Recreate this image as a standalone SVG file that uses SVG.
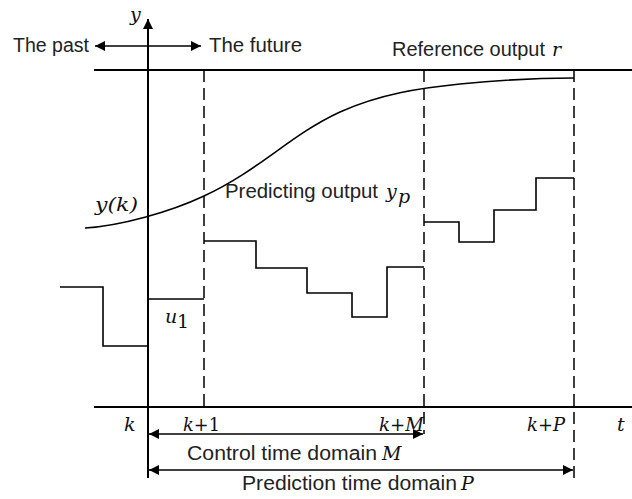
<svg xmlns="http://www.w3.org/2000/svg" width="632" height="499" viewBox="0 0 632 499">
<defs>
<marker id="ah" viewBox="0 0 10 10" refX="10" refY="5" markerWidth="11" markerHeight="10" markerUnits="userSpaceOnUse" orient="auto-start-reverse">
<path d="M0,0 L10,5 L0,10 Z" fill="#000"/>
</marker>
<style>
.ln{fill:none;stroke:#000;stroke-width:1.6}
.ax{fill:none;stroke:#000;stroke-width:2}
.dash{fill:none;stroke:#000;stroke-width:1.5;stroke-dasharray:12 6}
.sans{font-family:"Liberation Sans","Noto Sans",Arial,sans-serif;font-size:20px;fill:#222}
.math{font-family:"DejaVu Serif","Liberation Serif",serif;font-style:italic;font-size:19px;fill:#111}
.up{font-style:normal}
</style>
</defs>
<rect width="632" height="499" fill="#fff"/>
<g id="connectors">
<line class="ax" x1="148" y1="478" x2="148" y2="19" marker-end="url(#ah)" stroke-width="2.4"/>
<line class="ax" x1="94" y1="407" x2="632" y2="407"/>
<line class="ax" x1="94" y1="70" x2="632" y2="70"/>
<line class="ln" x1="95" y1="46" x2="201" y2="46" marker-start="url(#ah)" marker-end="url(#ah)"/>
<line class="dash" x1="204" y1="70" x2="204" y2="407"/>
<line class="dash" x1="424" y1="70" x2="424" y2="434"/>
<line class="dash" x1="574" y1="70" x2="574" y2="478"/>
<path class="ln" d="M85,228 C120,226 170,212 204,196 C260,170 290,135 340,112 C380,94 420,88 460,84 C500,80 540,78 574,78"/>
<path class="ln" d="M60,287 H103 V346 H148"/>
<path class="ln" d="M148,299 H204"/>
<path class="ln" d="M204,241 H256 V268 H307 V293 H352 V317 H387 V267 H424"/>
<path class="ln" d="M424,222 H459 V242 H494 V210 H536 V178 H574"/>
<line class="ln" x1="149" y1="434" x2="423" y2="434" marker-start="url(#ah)" marker-end="url(#ah)"/>
<line class="ln" x1="149" y1="470" x2="573" y2="470" marker-start="url(#ah)" marker-end="url(#ah)"/>
</g>
<g id="labels">
<text class="math" x="130" y="21">y</text>
<text class="sans" x="13" y="52" textLength="76" lengthAdjust="spacingAndGlyphs">The past</text>
<text class="sans" x="209" y="52" textLength="93" lengthAdjust="spacingAndGlyphs">The future</text>
<text class="sans" x="392" y="56" textLength="153" lengthAdjust="spacingAndGlyphs">Reference output</text>
<text class="math" x="552" y="56">r</text>
<text class="math" x="95" y="211" textLength="43" lengthAdjust="spacingAndGlyphs">y(k)</text>
<text class="sans" x="225" y="198" textLength="153" lengthAdjust="spacingAndGlyphs">Predicting output</text>
<text class="math" x="386" y="198">y</text>
<text class="math" x="398" y="203" font-size="13">p</text>
<text class="math" x="165" y="323">u</text>
<text class="math up" x="177" y="328" font-size="13">1</text>
<text class="math" x="124" y="431">k</text>
<text class="math" x="183" y="431" textLength="37" lengthAdjust="spacingAndGlyphs">k<tspan class="up">+1</tspan></text>
<text class="math" x="379" y="431" textLength="45" lengthAdjust="spacingAndGlyphs">k<tspan class="up">+</tspan>M</text>
<text class="math" x="527" y="431" textLength="38" lengthAdjust="spacingAndGlyphs">k<tspan class="up">+</tspan>P</text>
<text class="math" x="617" y="431">t</text>
<text class="sans" x="187" y="460" textLength="190" lengthAdjust="spacingAndGlyphs">Control time domain</text>
<text class="math" x="382" y="460">M</text>
<text class="sans" x="242" y="490" textLength="215" lengthAdjust="spacingAndGlyphs">Prediction time domain</text>
<text class="math" x="461" y="490">P</text>
</g>
</svg>
